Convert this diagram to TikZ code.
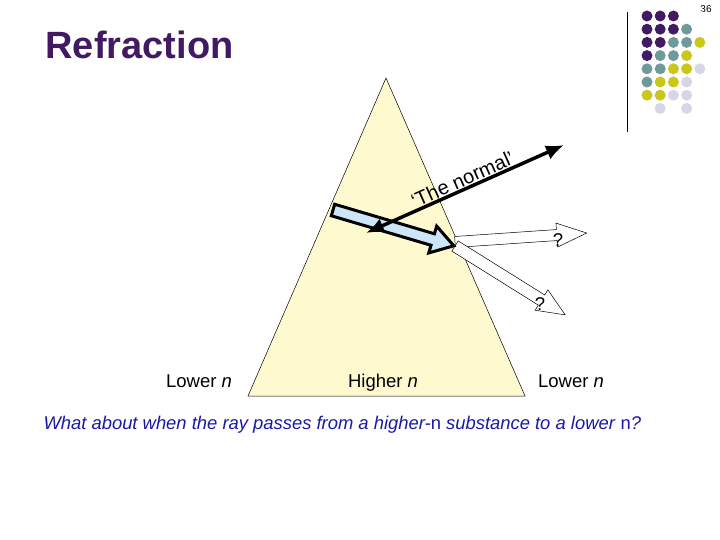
\documentclass[tikz,border=0pt]{standalone}
\usepackage{fontspec}
\setmainfont{Liberation Sans}
\usetikzlibrary{arrows.meta,calc}
\definecolor{prism}{HTML}{FFF9CF}
\definecolor{rayblue}{HTML}{CDE6F7}
\definecolor{dP}{HTML}{421A63}
\definecolor{dT}{HTML}{6E9A9C}
\definecolor{dY}{HTML}{C9C71C}
\definecolor{dL}{HTML}{D6D6E6}
\definecolor{dN}{HTML}{FFFFFF}
\definecolor{capblue}{HTML}{1A1AA6}
\tikzset{
 lbl/.style={font=\fontsize{18.5}{20}\selectfont, anchor=base},
 dot/.style={circle, inner sep=0pt, minimum size=11pt}
}
\newcommand{\arrpoly}[4]{(0,-#2) -- (#1-#4,-#2) -- (#1-#4,-#3) -- (#1,0) -- (#1-#4,#3) -- (#1-#4,#2) -- (0,#2) -- cycle}
\begin{document}
\begin{tikzpicture}[x=1pt,y=-1pt]
\useasboundingbox (0,0) rectangle (720,540);
\fill[white] (0,0) rectangle (720,540);
\node[anchor=base west, text=dP, font=\fontsize{38}{40}\selectfont\bfseries] (title) at (42,59) {Refraction};
\node[font=\fontsize{10}{11}\selectfont] (pg) at (706,9) {36};
\draw (627,12) -- (627,132);
\foreach \r/\row in {0/{P,P,P,N,N},1/{P,P,P,T,N},2/{P,P,T,T,Y},3/{P,T,T,Y,N},4/{T,T,Y,Y,L},5/{T,Y,Y,L,N},6/{Y,Y,L,L,N},7/{N,L,N,L,N}}{
 \foreach \c [count=\i from 0] in \row {
  \node[dot, fill=d\c] (d\r\i) at (647+13.2*\i,16+13.2*\r) {};
 }}
\path[fill=prism, draw=black, line width=0.5pt] (386,78) coordinate (apex) -- (525,396) coordinate (br) -- (248,396) coordinate (bl) -- cycle;
\begin{scope}[shift={(455,242)}, rotate=3.9]
 \draw[fill=white, line width=0.5pt] \arrpoly{132}{5.5}{12}{30};
\end{scope}
\begin{scope}[shift={(455,246)}, rotate=-32]
 \draw[fill=white, line width=0.5pt] \arrpoly{130}{6}{12}{28};
\end{scope}
\begin{scope}[shift={(333,210)}, rotate=-16.5]
 \draw[fill=rayblue, line width=3pt, line join=miter] \arrpoly{126}{6}{14}{22};
\end{scope}
\coordinate (n1) at (366,233);
\coordinate (n2) at (564,145);
\draw[line width=3.5pt, {Latex[length=18pt,width=15pt]}-{Latex[length=18pt,width=15pt]}] (n1) -- (n2);
\node[font=\fontsize{20}{22}\selectfont, rotate=24, anchor=south, inner sep=1pt] (normal) at (466,187) {‘The normal’};
\node[lbl] (q1) at (558,247) {?};
\node[lbl] (q2) at (540,310) {?};
\node[lbl] (l1) at (199,387) {Lower \textit{n}};
\node[lbl] (l2) at (383,387) {Higher \textit{n}};
\node[lbl] (l3) at (571,387) {Lower \textit{n}};
\node[anchor=west, text=capblue, font=\fontsize{18.4}{20}\selectfont\itshape] (cap) at (40,425) {What about when the ray passes from a higher-\textup{n} substance to a lower \textup{n}?};
\end{tikzpicture}
\end{document}
